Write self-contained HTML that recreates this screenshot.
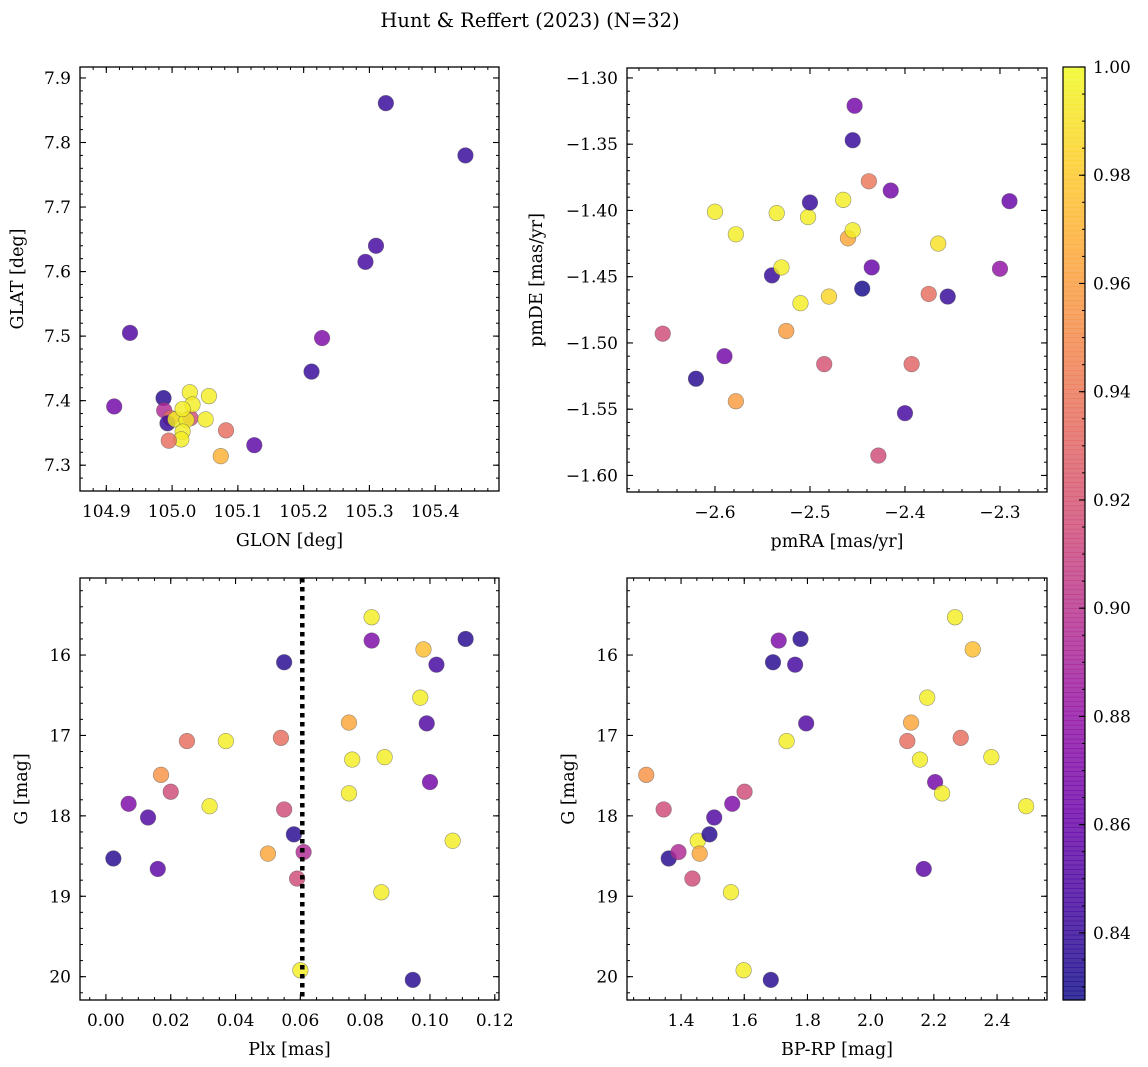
<!DOCTYPE html>
<html><head><meta charset="utf-8">
<style>
html,body{margin:0;padding:0;background:#fff;}
svg{display:block;font-family:"DejaVu Serif","Liberation Serif",serif;}
</style></head>
<body>
<svg id="fig" width="1148" height="1067" viewBox="0 0 1148 1067" xmlns="http://www.w3.org/2000/svg">
<text x="530" y="27" font-size="19.5" text-anchor="middle">Hunt &amp; Reffert (2023) (N=32)</text>
</svg>
<script>
// ---- data ----
const glon = [104.912,104.936,104.987,104.988,104.998,105.028,104.993,105.027,105.056,105.031,105.005,105.022,105.051,105.016,105.014,104.995,105.082,105.125,105.074,105.212,105.228,105.294,105.310,105.325,105.446,105.016];
const glat = [7.391,7.505,7.404,7.385,7.373,7.373,7.365,7.413,7.407,7.394,7.371,7.370,7.371,7.352,7.340,7.338,7.354,7.331,7.314,7.445,7.497,7.615,7.640,7.861,7.780,7.387];
const probA = [0.865,0.85,0.835,0.895,0.935,0.915,0.84,0.995,0.995,0.995,0.995,0.995,0.995,0.995,0.995,0.935,0.935,0.855,0.97,0.84,0.87,0.845,0.845,0.84,0.84,0.995];

const pmra = [-2.655,-2.620,-2.600,-2.590,-2.578,-2.578,-2.540,-2.535,-2.530,-2.525,-2.510,-2.502,-2.500,-2.485,-2.480,-2.465,-2.460,-2.455,-2.455,-2.453,-2.445,-2.438,-2.435,-2.428,-2.415,-2.400,-2.393,-2.375,-2.365,-2.355,-2.300,-2.290];
const pmde = [-1.493,-1.527,-1.401,-1.510,-1.418,-1.544,-1.449,-1.402,-1.443,-1.491,-1.470,-1.405,-1.394,-1.516,-1.465,-1.392,-1.421,-1.415,-1.347,-1.321,-1.459,-1.378,-1.443,-1.585,-1.385,-1.553,-1.516,-1.463,-1.425,-1.465,-1.444,-1.393];
const probB = [0.915,0.835,0.995,0.865,0.995,0.96,0.84,0.995,0.995,0.96,0.995,0.995,0.84,0.92,0.985,0.995,0.965,0.995,0.84,0.865,0.83,0.94,0.86,0.915,0.865,0.845,0.93,0.935,0.99,0.84,0.88,0.86];

const gmag = [17.49,17.92,18.53,18.45,18.78,18.31,18.47,18.23,18.02,17.85,17.70,18.95,19.92,20.04,16.09,15.82,16.12,15.80,16.85,17.07,17.07,16.84,17.30,16.53,17.58,17.72,18.66,15.53,17.03,15.93,17.27,17.88];
const bprp = [1.290,1.345,1.361,1.392,1.436,1.453,1.459,1.490,1.505,1.562,1.601,1.558,1.598,1.684,1.691,1.709,1.761,1.778,1.796,1.734,2.116,2.128,2.156,2.179,2.204,2.226,2.168,2.267,2.285,2.323,2.382,2.492];
const plx = [0.017,0.055,0.0023,0.061,0.059,0.107,0.050,0.058,0.013,0.007,0.020,0.085,0.060,0.0947,0.055,0.082,0.102,0.111,0.099,0.037,0.025,0.075,0.076,0.097,0.100,0.075,0.016,0.082,0.054,0.098,0.086,0.032];
const prob = [0.955,0.915,0.835,0.895,0.915,0.995,0.965,0.835,0.85,0.87,0.915,0.995,0.995,0.835,0.835,0.87,0.845,0.835,0.85,0.995,0.935,0.965,0.995,0.995,0.865,0.995,0.855,0.995,0.935,0.975,0.995,0.995];
const plxCut = 0.0606;
const cbTicks = [0.84,0.86,0.88,0.90,0.92,0.94,0.96,0.98,1.00];

const VMIN = 0.8276, VMAX = 1.0;
const NS = "http://www.w3.org/2000/svg";
const svg = document.getElementById('fig');
const plasma = [[13,8,135],[65,4,157],[106,0,168],[143,13,164],[177,42,144],[204,71,120],[225,100,98],[242,132,75],[252,166,54],[252,206,37],[240,249,33]];
function cmap(v){
  let t=(v-VMIN)/(VMAX-VMIN); t=Math.max(0,Math.min(1,t));
  const f=t*10, i=Math.min(9,Math.floor(f)), r=f-i;
  const a=plasma[i], b=plasma[i+1];
  return 'rgb('+[0,1,2].map(k=>Math.round(a[k]+(b[k]-a[k])*r)).join(',')+')';
}
function mk(tag, attrs){ const e=document.createElementNS(NS,tag); for(const k in attrs) e.setAttribute(k,attrs[k]); svg.appendChild(e); return e; }
function fmt(v,d){ const s=Math.abs(v).toFixed(d); return (v< -1e-9?'\u2212':'')+s; }

function panel(o){
  const sx=v=>o.x0+(v-o.xmin)/(o.xmax-o.xmin)*(o.x1-o.x0);
  const sy=o.invert ? (v=>o.y0+(v-o.ymin)/(o.ymax-o.ymin)*(o.y1-o.y0)) : (v=>o.y1-(v-o.ymin)/(o.ymax-o.ymin)*(o.y1-o.y0));
  const ticks=(lo,hi,step)=>{const r=[];const s=Math.ceil(lo/step-1e-6);for(let k=s;k*step<=hi+1e-9;k++)r.push(k*step);return r;};
  for(const v of ticks(o.xmin,o.xmax,o.xminor)){const x=sx(v);
    let t=mk('line',{x1:x,y1:o.y1,x2:x,y2:o.y1-3,stroke:'#000','stroke-width':1});
    
    
    t=mk('line',{x1:x,y1:o.y0,x2:x,y2:o.y0+3,stroke:'#000','stroke-width':1});
    
    }
  for(const v of ticks(o.ymin,o.ymax,o.yminor)){const y=sy(v);
    let t=mk('line',{x1:o.x0,y1:y,x2:o.x0+3,y2:y,stroke:'#000','stroke-width':1});
    
    
    t=mk('line',{x1:o.x1,y1:y,x2:o.x1-3,y2:y,stroke:'#000','stroke-width':1});
    
    }
  for(const v of ticks(o.xmin,o.xmax,o.xmajor)){const x=sx(v);
    let t=mk('line',{x1:x,y1:o.y1,x2:x,y2:o.y1-6,stroke:'#000','stroke-width':1.1});
    
    
    t=mk('line',{x1:x,y1:o.y0,x2:x,y2:o.y0+6,stroke:'#000','stroke-width':1.1});
    
    
    const l=mk('text',{x:x,y:o.y1+26,'font-size':17,'text-anchor':'middle'});
    
    
    l.textContent=fmt(v,o.xdec);}
  for(const v of ticks(o.ymin,o.ymax,o.ymajor)){const y=sy(v);
    let t=mk('line',{x1:o.x0,y1:y,x2:o.x0+6,y2:y,stroke:'#000','stroke-width':1.1});
    
    
    t=mk('line',{x1:o.x1,y1:y,x2:o.x1-6,y2:y,stroke:'#000','stroke-width':1.1});
    
    
    const l=mk('text',{x:o.x0-9,y:y+6,'font-size':17,'text-anchor':'end'});
    
    
    l.textContent=fmt(v,o.ydec);}
  for(let i=0;i<o.xs.length;i++){
    const c=mk('circle',{cx:sx(o.xs[i]),cy:sy(o.ys[i]),r:7.8,fill:cmap(o.ps[i]),'fill-opacity':0.82,stroke:'#555','stroke-opacity':0.6,'stroke-width':0.6});
    
    
  }
  if(o.vline!==undefined){
    const ln=mk('line',{x1:sx(o.vline),y1:o.y0,x2:sx(o.vline),y2:o.y1,stroke:'#000','stroke-width':4.5,'stroke-dasharray':'4.5,4.5'});
    
    
  }
  const fr=mk('rect',{x:o.x0,y:o.y0,width:o.x1-o.x0,height:o.y1-o.y0,fill:'none',stroke:'#000','stroke-width':1.3});
  
  
  const xl=mk('text',{x:(o.x0+o.x1)/2,y:o.y1+55,'font-size':17.5,'text-anchor':'middle'});
  
  
  xl.textContent=o.xlabel;
  const yx=o.ylx, yy=(o.y0+o.y1)/2;
  const yl=mk('text',{x:yx,y:yy,'font-size':17.5,'text-anchor':'middle',transform:'rotate(-90 '+yx+' '+yy+')'});
  
  
  yl.textContent=o.ylabel;
}

panel({name:'glon-glat',x0:80,x1:499,y0:67,y1:491,xmin:104.86,xmax:105.497,ymin:7.260,ymax:7.917,
  xmajor:0.1,xminor:0.02,ymajor:0.1,yminor:0.02,xdec:1,ydec:1,xs:glon,ys:glat,ps:probA,
  xlabel:'GLON [deg]',ylabel:'GLAT [deg]',ylx:23});
panel({name:'pm',x0:627,x1:1047,y0:68,y1:492,xmin:-2.6926,xmax:-2.2505,ymin:-1.6125,ymax:-1.2925,
  xmajor:0.1,xminor:0.02,ymajor:0.05,yminor:0.01,xdec:1,ydec:2,xs:pmra,ys:pmde,ps:probB,
  xlabel:'pmRA [mas/yr]',ylabel:'pmDE [mas/yr]',ylx:542});
panel({name:'plx-g',x0:80,x1:499,y0:578,y1:1000,xmin:-0.008,xmax:0.1213,ymin:15.042,ymax:20.29,invert:true,
  xmajor:0.02,xminor:0.005,ymajor:1,yminor:0.2,xdec:2,ydec:0,xs:plx,ys:gmag,ps:prob,vline:plxCut,
  xlabel:'Plx [mas]',ylabel:'G [mag]',ylx:27});
panel({name:'cmd',x0:627,x1:1047,y0:578,y1:1000,xmin:1.229,xmax:2.558,ymin:15.042,ymax:20.29,invert:true,
  xmajor:0.2,xminor:0.05,ymajor:1,yminor:0.2,xdec:1,ydec:0,xs:bprp,ys:gmag,ps:prob,
  xlabel:'BP-RP [mag]',ylabel:'G [mag]',ylx:574});

(function(){
  const x0=1063,x1=1085,y0=67,y1=1000;
  const cy=v=>y1-(v-VMIN)/(VMAX-VMIN)*(y1-y0);
  const g=document.createElementNS(NS,'g');
  
  
  svg.appendChild(g);
  const N=200;
  for(let i=0;i<N;i++){
    const v=VMIN+(VMAX-VMIN)*(i+0.5)/N;
    const ya=y1-(i+1)/N*(y1-y0);
    const r=document.createElementNS(NS,'rect');
    r.setAttribute('x',x0);r.setAttribute('y',ya);r.setAttribute('width',x1-x0);r.setAttribute('height',(y1-y0)/N+0.6);
    r.setAttribute('fill',cmap(v));r.setAttribute('fill-opacity',0.82);
    g.appendChild(r);
  }
  for(let k=Math.ceil(VMIN/0.005);k*0.005<=VMAX+1e-9;k++){
    const v=k*0.005,y=cy(v);
    const t=mk('line',{x1:x1,y1:y,x2:x1-3,y2:y,stroke:'#000','stroke-width':1});
    
    
  }
  for(const v of cbTicks){
    const y=cy(v);
    const t=mk('line',{x1:x1,y1:y,x2:x1-6,y2:y,stroke:'#000','stroke-width':1.1});
    
    
    const l=mk('text',{x:x1+8,y:y+6,'font-size':17,'text-anchor':'start'});
    
    
    l.textContent=v.toFixed(2);
  }
  const fr=mk('rect',{x:x0,y:y0,width:x1-x0,height:y1-y0,fill:'none',stroke:'#000','stroke-width':1.2});
  
  
})();
</script>
</body></html>
